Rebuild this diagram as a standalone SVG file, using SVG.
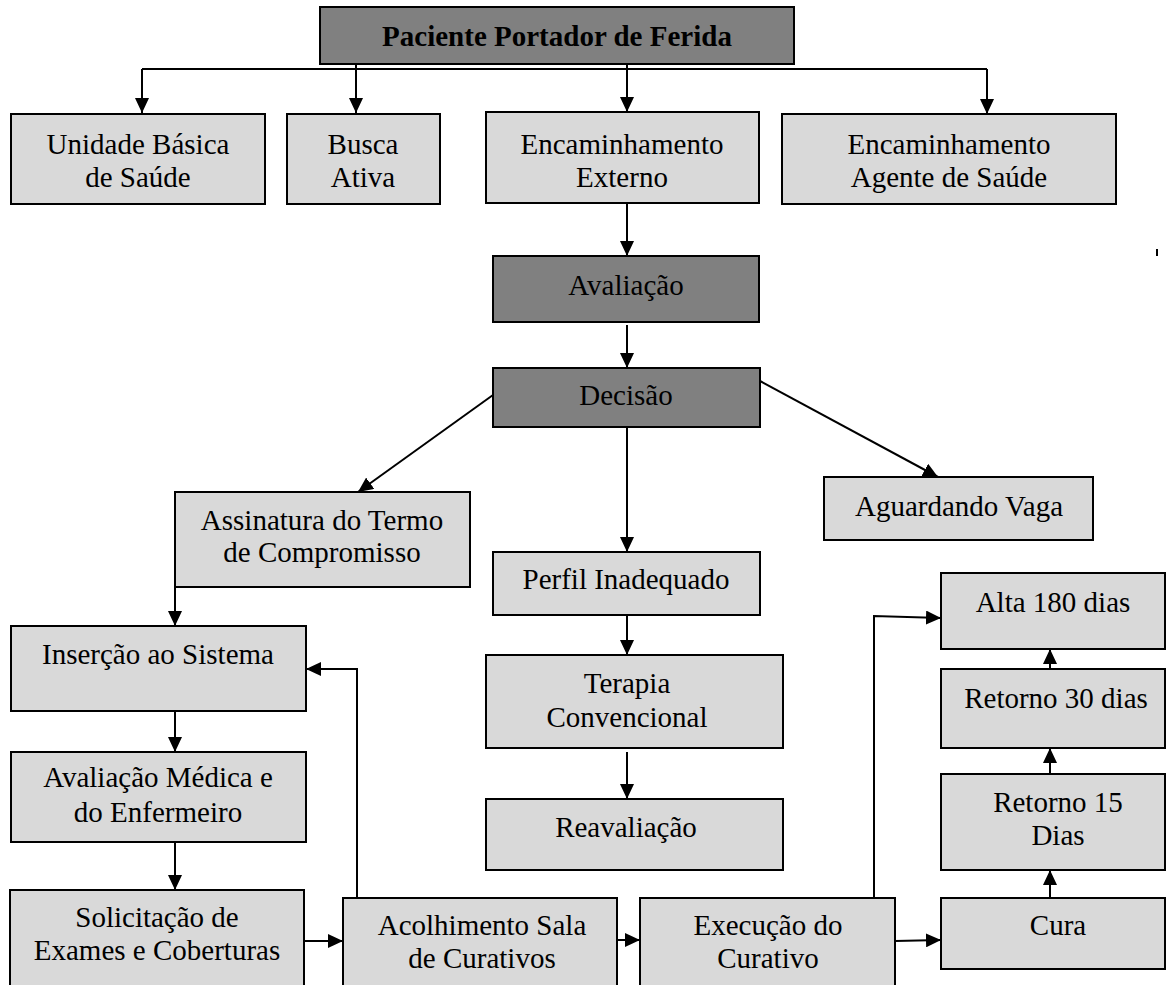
<svg xmlns="http://www.w3.org/2000/svg" width="1166" height="985" viewBox="0 0 1166 985">
<style>
.box{fill:#d9d9d9;stroke:#000;stroke-width:2}
.dark{fill:#808080;stroke:#000;stroke-width:2}
.t{font-family:"Liberation Serif","Times New Roman",serif;font-size:29px;fill:#000;text-anchor:middle}
.b{font-weight:bold;font-size:29px}
.c{fill:none;stroke:#000;stroke-width:2}
</style>
<defs>
<marker id="ah" markerUnits="userSpaceOnUse" markerWidth="16" markerHeight="14" refX="15" refY="7" orient="auto">
<path d="M0,0 L15,7 L0,14 z" fill="#000"/>
</marker>
</defs>
<rect width="1166" height="985" fill="#fff"/>

<g id="connectors">
<path class="c" d="M142,69 H987"/>
<path class="c" d="M142,69 V113" marker-end="url(#ah)"/>
<path class="c" d="M356,64 V113" marker-end="url(#ah)"/>
<path class="c" d="M627,64 V112" marker-end="url(#ah)"/>
<path class="c" d="M987,69 V114" marker-end="url(#ah)"/>
<path class="c" d="M627,203 V256" marker-end="url(#ah)"/>
<path class="c" d="M627,325 V368" marker-end="url(#ah)"/>
<path class="c" d="M493,395 L358,492" marker-end="url(#ah)"/>
<path class="c" d="M760,381 L938,477" marker-end="url(#ah)"/>
<path class="c" d="M627,427 V552" marker-end="url(#ah)"/>
<path class="c" d="M627,615 V655" marker-end="url(#ah)"/>
<path class="c" d="M627,752 V799" marker-end="url(#ah)"/>
<path class="c" d="M175,587 V626" marker-end="url(#ah)"/>
<path class="c" d="M175,711 V752" marker-end="url(#ah)"/>
<path class="c" d="M175,842 V890" marker-end="url(#ah)"/>
<path class="c" d="M304,941 H343" marker-end="url(#ah)"/>
<path class="c" d="M357,898 V669 H306" marker-end="url(#ah)"/>
<path class="c" d="M617,940 H640" marker-end="url(#ah)"/>
<path class="c" d="M874,898 V616 L941,618" marker-end="url(#ah)"/>
<path class="c" d="M895,941 L941,940" marker-end="url(#ah)"/>
<path class="c" d="M1050,898 V870" marker-end="url(#ah)"/>
<path class="c" d="M1050,774 V748" marker-end="url(#ah)"/>
<path class="c" d="M1050,669 V649" marker-end="url(#ah)"/>
</g>

<g id="n-paciente"><rect class="dark" x="320" y="7" width="474" height="57"/><text class="t b" x="557" y="46">Paciente Portador de Ferida</text></g>
<g id="n-unidade"><rect class="box" x="11" y="114" width="254" height="90"/><text class="t" x="138" y="154">Unidade Básica</text><text class="t" x="138" y="187">de Saúde</text></g>
<g id="n-busca"><rect class="box" x="287" y="114" width="153" height="90"/><text class="t" x="363" y="154">Busca</text><text class="t" x="363" y="187">Ativa</text></g>
<g id="n-encext"><rect class="box" x="486" y="112" width="273" height="91"/><text class="t" x="622" y="154">Encaminhamento</text><text class="t" x="622" y="187">Externo</text></g>
<g id="n-agente"><rect class="box" x="782" y="114" width="334" height="90"/><text class="t" x="949" y="154">Encaminhamento</text><text class="t" x="949" y="187">Agente de Saúde</text></g>
<g id="n-avaliacao"><rect class="dark" x="493" y="256" width="266" height="66"/><text class="t" x="626" y="295">Avaliação</text></g>
<g id="n-decisao"><rect class="dark" x="493" y="368" width="267" height="59"/><text class="t" x="626" y="405">Decisão</text></g>
<g id="n-assinatura"><rect class="box" x="175" y="492" width="295" height="95"/><text class="t" x="322" y="530">Assinatura do Termo</text><text class="t" x="322" y="562">de Compromisso</text></g>
<g id="n-aguardando"><rect class="box" x="824" y="477" width="269" height="63"/><text class="t" x="959" y="516">Aguardando Vaga</text></g>
<g id="n-perfil"><rect class="box" x="493" y="552" width="267" height="63"/><text class="t" x="626" y="589">Perfil Inadequado</text></g>
<g id="n-alta"><rect class="box" x="941" y="573" width="224" height="76"/><text class="t" x="1053" y="612">Alta 180 dias</text></g>
<g id="n-insercao"><rect class="box" x="11" y="626" width="295" height="85"/><text class="t" x="158" y="664">Inserção ao Sistema</text></g>
<g id="n-terapia"><rect class="box" x="486" y="655" width="297" height="93"/><text class="t" x="627" y="693">Terapia</text><text class="t" x="627" y="727">Convencional</text></g>
<g id="n-retorno30"><rect class="box" x="941" y="669" width="224" height="79"/><text class="t" x="1056" y="708">Retorno 30 dias</text></g>
<g id="n-avalmed"><rect class="box" x="11" y="752" width="295" height="90"/><text class="t" x="158" y="787">Avaliação Médica e</text><text class="t" x="158" y="822">do Enfermeiro</text></g>
<g id="n-retorno15"><rect class="box" x="941" y="774" width="224" height="96"/><text class="t" x="1058" y="812">Retorno 15</text><text class="t" x="1058" y="845">Dias</text></g>
<g id="n-reavaliacao"><rect class="box" x="486" y="799" width="297" height="71"/><text class="t" x="626" y="837">Reavaliação</text></g>
<g id="n-solicitacao"><rect class="box" x="10" y="890" width="294" height="110"/><text class="t" x="157" y="927">Solicitação de</text><text class="t" x="157" y="960">Exames e Coberturas</text></g>
<g id="n-acolhimento"><rect class="box" x="343" y="898" width="274" height="110"/><text class="t" x="482" y="935">Acolhimento Sala</text><text class="t" x="482" y="968">de Curativos</text></g>
<g id="n-execucao"><rect class="box" x="640" y="898" width="255" height="110"/><text class="t" x="768" y="935">Execução do</text><text class="t" x="768" y="968">Curativo</text></g>
<g id="n-cura"><rect class="box" x="941" y="898" width="224" height="71"/><text class="t" x="1058" y="935">Cura</text></g>
<path d="M1157,249 V256" stroke="#000" stroke-width="2"/>
</svg>
